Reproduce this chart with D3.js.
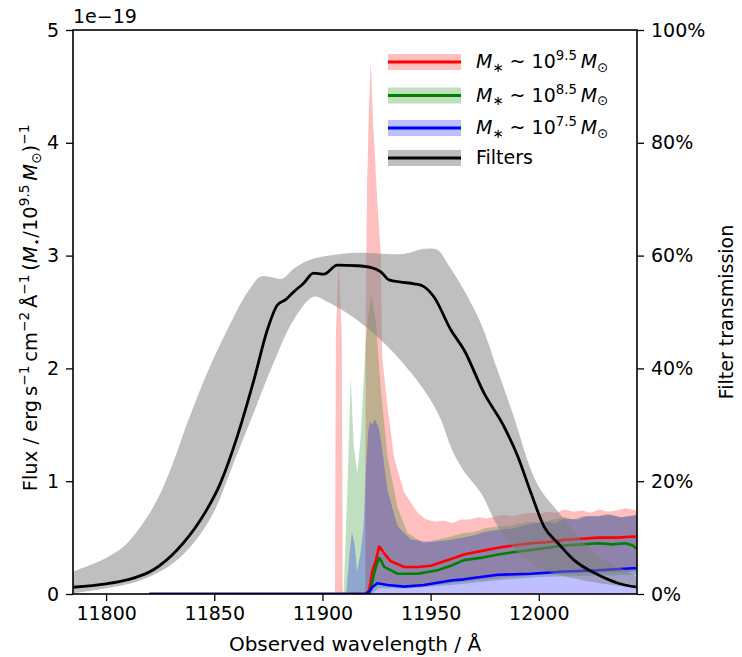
<!DOCTYPE html>
<html>
<head>
<meta charset="utf-8">
<script src="https://cdn.jsdelivr.net/npm/d3@7"></script>
<style>
  body { margin: 0; background: #fff; }
  text { font-family: "DejaVu Sans", sans-serif; }
</style>
</head>
<body>
<div id="chart"></div>
<script>
// ---- data ----
// filter transmission in percent, [wavelength, value]
const filterLine = [[11784.7,1.2],[11800,1.8],[11809.7,2.5],[11821.9,4.3],[11832.8,7.8],[11843.6,13.1],[11852.9,19.7],[11860.6,27.9],[11868.3,37.9],[11874.5,46.8],[11879.1,51.2],[11883,52.2],[11886.8,53.6],[11891.3,55.1],[11895.9,56.9],[11900.6,56.7],[11906.9,58.3],[11916.2,58.2],[11922.3,57.9],[11927.0,57.1],[11930.8,55.7],[11936.2,55.3],[11942.4,55.0],[11946.9,54.5],[11951.5,52.7],[11959.4,46.8],[11965.4,43.3],[11974.7,35.6],[11983.9,29.7],[11990.4,24.3],[11996.4,17.9],[12002.5,11.9],[12008.9,9.0],[12016.3,6.0],[12027.4,3.4],[12036.7,1.9],[12045.4,1.2]];
const filterUpper = [[11784.7,4.0],[11800,6.4],[11809.7,9.0],[11821.9,15.5],[11829.7,22.0],[11837.5,30.3],[11846.7,39.2],[11856.0,46.8],[11865.2,53.4],[11871.4,56.3],[11876.0,56.2],[11881.4,55.9],[11886.8,57.7],[11894.6,59.3],[11905,60.1],[11916.2,60.5],[11937.6,60.3],[11946.9,61.2],[11953.2,61.0],[11957.8,58.6],[11965.4,53.9],[11973.2,48.0],[11980.9,39.7],[11988.5,31.4],[11996.4,22.0],[12001,18.4],[12010.2,14.0],[12019.5,9.6],[12028.7,6.4],[12045.4,2.8]];
const filterLower = [[11784.7,0.1],[11800,1.0],[11814.3,2.2],[11829.7,5.1],[11840.4,9.0],[11849.6,14.4],[11858.9,23.2],[11868.2,32.1],[11877.4,41.0],[11886.7,48.6],[11895.9,52.7],[11902.3,51.8],[11917.3,48.2],[11931.6,43.3],[11946.9,36.2],[11954.8,30.9],[11959.4,26.0],[11965.0,22.0],[11973.3,17.9],[11981.2,11.9],[11990.4,7.3],[12002.5,4.3],[12019.6,2.5],[12042.7,1.2],[12045.4,1.1]];

// stacked spectra, flux in units of 1e-19
const redUpper = [[11820,0],[11905.8,0],[11906.2,2.3],[11907.5,2.93],[11908.9,2.3],[11909.4,0],[11919.8,0],[11920.0,2.5],[11920.6,3.6],[11921.5,4.3],[11922.3,4.72],[11923.5,4.15],[11925.3,3.5],[11927.0,3.0],[11927.6,2.1],[11930.1,1.66],[11933.1,1.21],[11937.8,0.9],[11944.0,0.72],[11948,0.66],[11952,0.64],[11956,0.65],[11960,0.63],[11964,0.66],[11968,0.66],[11972,0.68],[11976,0.67],[11980,0.69],[11984,0.7],[11988,0.69],[11992,0.71],[11996,0.72],[12000,0.71],[12004,0.73],[12008,0.72],[12012,0.75],[12016,0.73],[12020,0.74],[12024,0.72],[12028,0.75],[12032,0.73],[12036,0.74],[12040,0.76],[12045.4,0.74]];
const redLower = [[11820,0],[11922,0],[11925,0.1],[11930,0.08],[11945,0.06],[11960,0.1],[11980,0.14],[12000,0.17],[12045.4,0.2]];
const greenUpper = [[11820,0],[11909.8,0],[11911.5,0.9],[11913.1,1.93],[11913.8,1.6],[11914.5,1.3],[11916.2,1.07],[11917.7,1.4],[11919.1,1.9],[11920.0,2.25],[11921.4,2.5],[11922.3,2.64],[11923.2,2.6],[11924.7,2.4],[11927.0,1.81],[11930.1,1.22],[11934.7,0.77],[11939.3,0.54],[11946.9,0.45],[11950.1,0.47],[11955,0.49],[11959.4,0.51],[11965.4,0.54],[11970,0.55],[11975,0.58],[11981.2,0.6],[11986,0.6],[11990,0.62],[11996.4,0.64],[12002,0.63],[12006,0.66],[12011.7,0.68],[12016,0.66],[12020,0.69],[12027.4,0.69],[12032,0.71],[12038,0.68],[12045.4,0.7]];
const greenLower = [[11820,0],[11923,0],[11926,0.05],[11940,0.05],[11960,0.08],[11980,0.12],[12000,0.15],[12045.4,0.17]];
const blueUpper = [[11820,0],[11911.0,0],[11912.5,0.35],[11913.6,0.55],[11914.8,0.45],[11916.0,0.2],[11917.5,0.35],[11919.0,0.6],[11920.0,1.07],[11921.2,1.45],[11922.0,1.53],[11923.0,1.5],[11924.2,1.55],[11925.5,1.5],[11926.3,1.45],[11927.0,1.37],[11930.1,0.92],[11934.7,0.6],[11940.9,0.48],[11950,0.46],[11959.4,0.48],[11965,0.5],[11970,0.52],[11975,0.55],[11981.2,0.57],[11988,0.58],[11996.4,0.62],[12002,0.64],[12008,0.63],[12011.7,0.67],[12018,0.66],[12022,0.69],[12027.4,0.69],[12033,0.7],[12038,0.68],[12045.4,0.7]];
const blueLower = [[11820,0],[12045.4,0]];

const redLine = [[11820,0],[11920,0],[11921.5,0.03],[11922.2,0.1],[11923,0.2],[11924.7,0.3],[11926.2,0.42],[11926.8,0.41],[11928.5,0.36],[11931.6,0.29],[11937.8,0.24],[11944.0,0.24],[11950.1,0.25],[11959.4,0.31],[11965.4,0.35],[11973,0.38],[11981.2,0.41],[11988,0.43],[11996.4,0.45],[12004,0.46],[12011.7,0.48],[12020,0.49],[12027.4,0.5],[12036,0.5],[12044.1,0.51],[12045.4,0.5]];
const greenLine = [[11820,0],[11921.5,0],[11922.5,0.05],[11923.5,0.15],[11924.7,0.24],[11926.2,0.32],[11927.0,0.3],[11928.5,0.24],[11934.7,0.18],[11944.0,0.18],[11953.2,0.21],[11959.4,0.25],[11965.4,0.3],[11973,0.32],[11981.2,0.35],[11988,0.37],[11996.4,0.39],[12004,0.41],[12011.7,0.43],[12020,0.44],[12027.4,0.45],[12034,0.44],[12040,0.45],[12043.5,0.43],[12045.4,0.4]];
const blueLine = [[11820,0],[11920,0],[11921.5,0.02],[11923,0.06],[11925.4,0.095],[11930.1,0.08],[11937.8,0.065],[11946.9,0.08],[11959.4,0.12],[11965.4,0.13],[11973,0.15],[11981.2,0.17],[11996.4,0.18],[12011.7,0.2],[12027.4,0.21],[12045.4,0.23]];

const xTicks = [11800, 11850, 11900, 11950, 12000];
const yTicks = [0, 1, 2, 3, 4, 5];
const pctTicks = [0, 20, 40, 60, 80, 100];
const legendMass = ["9.5", "8.5", "7.5"];

// ---- layout ----
const margin = {top: 30, right: 105, bottom: 63, left: 73},
  width = 742 - margin.left - margin.right,
  height = 657 - margin.top - margin.bottom;

const svg = d3.select("#chart")
  .append("svg")
  .attr("width", 742)
  .attr("height", 657);

const g = svg.append("g")
  .attr("transform", "translate(" + margin.left + "," + margin.top + ")");

const x = d3.scaleLinear().domain([11784.7, 12045.4]).range([0, width]);
const y = d3.scaleLinear().domain([0, 5]).range([height, 0]);
const yPct = d3.scaleLinear().domain([0, 100]).range([height, 0]);

g.append("clipPath").attr("id", "clip")
  .append("rect").attr("width", width).attr("height", height);

const plot = g.append("g").attr("clip-path", "url(#clip)");

// band = upper edge forward, lower edge backward
function band(upper, lower, ys, curve) {
  const pts = upper.concat(lower.slice().reverse());
  return d3.line().x(d => x(d[0])).y(d => ys(d[1])).curve(curve || d3.curveLinear)(pts) + "Z";
}
const lineY = d3.line().x(d => x(d[0])).y(d => y(d[1]));
const linePct = d3.line().x(d => x(d[0])).y(d => yPct(d[1])).curve(d3.curveMonotoneX);

plot.append("path").attr("d", band(redUpper, redLower, y))
  .style("fill", "red").style("fill-opacity", 0.25);
plot.append("path").attr("d", band(greenUpper, greenLower, y))
  .style("fill", "green").style("fill-opacity", 0.25);
plot.append("path").attr("d", band(blueUpper, blueLower, y))
  .style("fill", "blue").style("fill-opacity", 0.25);

[[redLine, "red"], [greenLine, "green"], [blueLine, "blue"]].forEach(([data, col]) => {
  plot.append("path").datum(data).attr("d", lineY)
    .style("fill", "none").style("stroke", col).style("stroke-width", 2.6)
    .style("stroke-linejoin", "round");
});

// filters (twin axis, drawn on top)
plot.append("path").attr("d", band(filterUpper, filterLower, yPct, d3.curveCatmullRom.alpha(0.5)))
  .style("fill", "#808080").style("fill-opacity", 0.5);
plot.append("path").datum(filterLine).attr("d", linePct)
  .style("fill", "none").style("stroke", "black").style("stroke-width", 2.8);

// ---- axes ----
const fs = 19;
function styleAxis(sel) {
  sel.select(".domain").remove();
  sel.selectAll(".tick line").style("stroke", "black").style("stroke-width", 1.3);
  sel.selectAll(".tick text").style("font-size", fs + "px").style("fill", "black")
    .style("font-family", "DejaVu Sans");
}

g.append("g")
  .attr("transform", "translate(0," + height + ")")
  .call(d3.axisBottom(x).tickValues(xTicks).tickFormat(d3.format("d")).tickSize(7).tickPadding(6))
  .call(styleAxis);

g.append("g")
  .call(d3.axisLeft(y).tickValues(yTicks).tickFormat(d3.format("d")).tickSize(7).tickPadding(7))
  .call(styleAxis);

g.append("g")
  .attr("transform", "translate(" + width + ",0)")
  .call(d3.axisRight(yPct).tickValues(pctTicks).tickFormat(d => d + "%").tickSize(7).tickPadding(7))
  .call(styleAxis);

g.append("rect")
  .attr("width", width).attr("height", height)
  .style("fill", "none").style("stroke", "black").style("stroke-width", 1.6);

// offset text
g.append("text").attr("x", 0).attr("y", -7)
  .style("font-size", fs + "px").text("1e\u221219");

// ---- rich text helper (sup / sub / italic) ----
function rich(sel, parts, size) {
  let shift = 0;
  parts.forEach(p => {
    const target = p.sup ? -0.4 * size : p.sub ? 0.2 * size : 0;
    sel.append("tspan")
      .attr("dy", target - shift)
      .style("font-size", ((p.sup || p.sub) ? 0.7 * size : size) + "px")
      .style("font-style", p.it ? "italic" : "normal")
      .text(p.t);
    shift = target;
  });
}

// axis labels
g.append("text")
  .attr("x", width / 2).attr("y", height + 57)
  .attr("text-anchor", "middle")
  .style("font-size", "20px")
  .text("Observed wavelength / \u00c5");

const yl = g.append("text")
  .attr("transform", "translate(-36," + (height / 2 - 4) + ") rotate(-90)")
  .attr("text-anchor", "middle")
  .style("font-size", "19.5px");
rich(yl, [
  {t: "Flux / erg\u2009s"}, {t: "\u22121", sup: true}, {t: "\u2009cm"}, {t: "\u22122", sup: true},
  {t: "\u2009\u00c5"}, {t: "\u22121", sup: true}, {t: "\u2009("}, {t: "M", it: true}, {t: "\u22c6", sub: true},
  {t: "/10"}, {t: "9.5", sup: true}, {t: "\u2009"}, {t: "M", it: true}, {t: "\u2299", sub: true}, {t: ")"}, {t: "\u22121", sup: true}
], 19.5);

g.append("text")
  .attr("transform", "translate(" + (width + 96) + "," + (height / 2) + ") rotate(-90)")
  .attr("text-anchor", "middle")
  .style("font-size", "19px")
  .text("Filter transmission");

// ---- legend ----
const legendRows = [
  {fill: "red", op: 0.25, stroke: "red", y: 32, mass: legendMass[0]},
  {fill: "green", op: 0.25, stroke: "green", y: 65.5, mass: legendMass[1]},
  {fill: "blue", op: 0.25, stroke: "blue", y: 98, mass: legendMass[2]},
  {fill: "#808080", op: 0.5, stroke: "black", y: 128, mass: null}
];
const lg = g.append("g").attr("transform", "translate(315,0)");
legendRows.forEach(r => {
  lg.append("rect").attr("x", 0).attr("y", r.y - 8).attr("width", 73).attr("height", 16)
    .style("fill", r.fill).style("fill-opacity", r.op);
  lg.append("line").attr("x1", 0).attr("x2", 73).attr("y1", r.y).attr("y2", r.y)
    .style("stroke", r.stroke).style("stroke-width", 2.8);
  const t = lg.append("text").attr("x", 88).attr("y", r.y + 6).style("font-size", "19px");
  if (r.mass) {
    rich(t, [{t: "M", it: true}, {t: "\u2217", sub: true}, {t: " ~ 10"}, {t: r.mass, sup: true},
      {t: "\u2009"}, {t: "M", it: true}, {t: "\u2299", sub: true}], 19);
  } else {
    t.text("Filters");
  }
});
</script>
</body>
</html>
